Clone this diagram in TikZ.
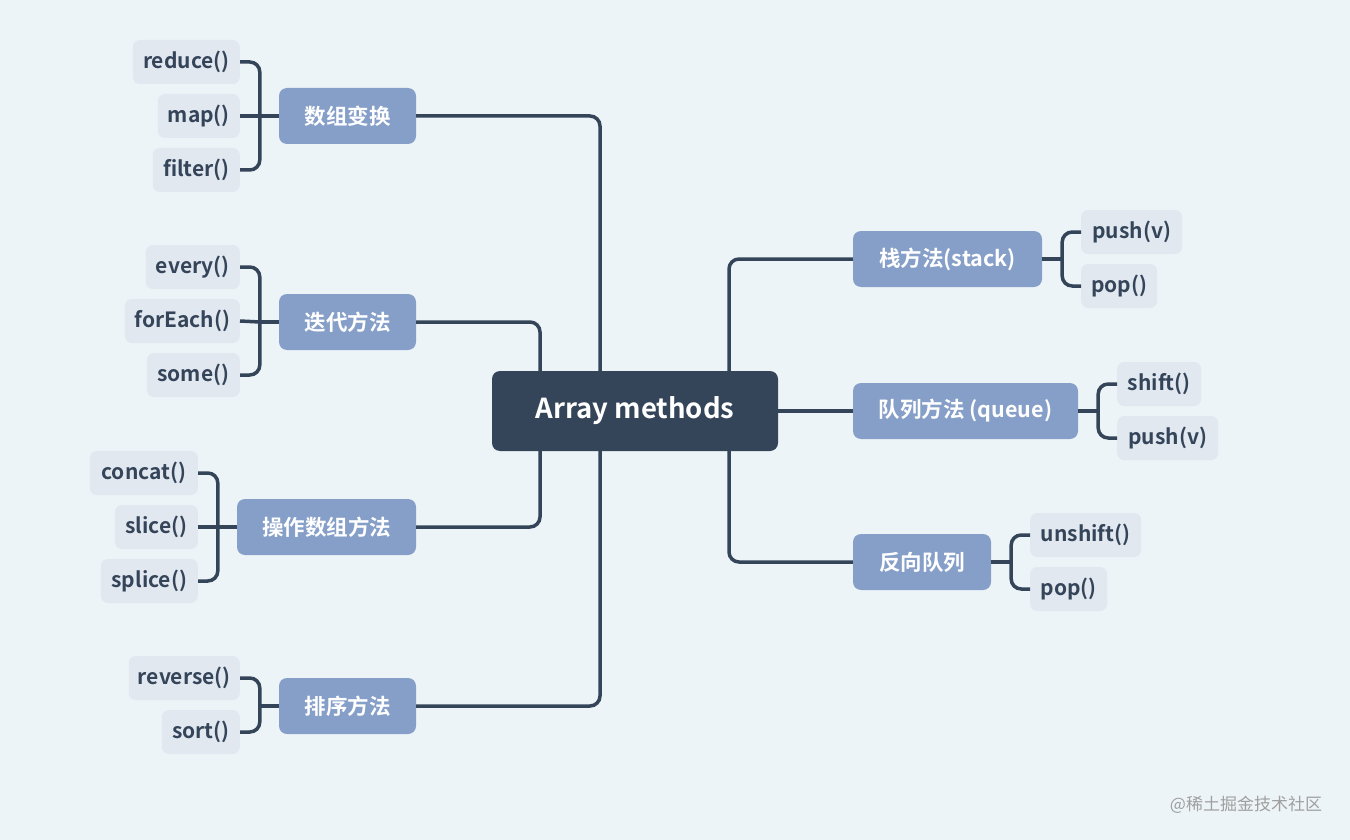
\documentclass[tikz,border=0pt]{standalone}
\usepackage{fontspec}
\setmainfont{Noto Sans CJK SC}[BoldFont={Noto Sans CJK SC Bold}]
\definecolor{bgcol}{HTML}{EDF4F8}
\definecolor{navy}{HTML}{344459}
\definecolor{branchcol}{HTML}{869FC8}
\definecolor{leafcol}{HTML}{E2E8F0}

\begin{document}
\begin{tikzpicture}[x=1pt,y=-1pt,
  rootbox/.style={fill=navy,text=white,rounded corners=8pt,minimum width=286pt,minimum height=80pt,font=\fontsize{27.5}{27.5}\selectfont\bfseries},
  branch/.style={fill=branchcol,text=white,rounded corners=8pt,minimum height=56pt,inner xsep=0pt,font=\fontsize{21.5}{21.5}\selectfont\bfseries},
  leaf/.style={fill=leafcol,text=navy,rounded corners=7pt,minimum height=44pt,inner xsep=0pt,font=\fontsize{21}{21}\selectfont\bfseries},
  link/.style={draw=navy,line width=3.5pt,rounded corners=10pt}]
  \fill[bgcol] (0,0) rectangle (1350,840);
  \useasboundingbox (0,0) rectangle (1350,840);
  \node[rootbox] (root) at (635,411) {Array methods};
  \node[branch,minimum width=137pt] (transform) at (347.5,116) {数组变换};
  \node[branch,minimum width=137pt] (iterate) at (347.5,322) {迭代方法};
  \node[branch,minimum width=179pt] (operate) at (326.5,527) {操作数组方法};
  \node[branch,minimum width=137pt] (sorting) at (347.5,706) {排序方法};
  \node[branch,minimum width=189pt] (stack) at (947.5,259) {栈方法(stack)};
  \node[branch,minimum width=225pt] (queue) at (965.5,411) {队列方法 (queue)};
  \node[branch,minimum width=138pt] (dequeue) at (922,562) {反向队列};
  \node[leaf,anchor=east,minimum width=107pt] (reduce) at (240,62) {reduce()};
  \node[leaf,anchor=east,minimum width=82pt] (map) at (240,116) {map()};
  \node[leaf,anchor=east,minimum width=87pt] (filter) at (240,170) {filter()};
  \node[leaf,anchor=east,minimum width=94pt] (every) at (240,267) {every()};
  \node[leaf,anchor=east,minimum width=115pt] (foreach) at (240,321) {forEach()};
  \node[leaf,anchor=east,minimum width=93pt] (some) at (240,375) {some()};
  \node[leaf,anchor=east,minimum width=108pt] (concat) at (198,473) {concat()};
  \node[leaf,anchor=east,minimum width=83pt] (slice) at (198,527) {slice()};
  \node[leaf,anchor=east,minimum width=97pt] (splice) at (198,581) {splice()};
  \node[leaf,anchor=east,minimum width=111pt] (reverse) at (240,678) {reverse()};
  \node[leaf,anchor=east,minimum width=78pt] (sort) at (240,732) {sort()};
  \node[leaf,anchor=west,minimum width=101pt] (push1) at (1081,232) {push(v)};
  \node[leaf,anchor=west,minimum width=76pt] (pop1) at (1081,286) {pop()};
  \node[leaf,anchor=west,minimum width=84pt] (shift) at (1117,384) {shift()};
  \node[leaf,anchor=west,minimum width=101pt] (push2) at (1117,438) {push(v)};
  \node[leaf,anchor=west,minimum width=111pt] (unshift) at (1030,535) {unshift()};
  \node[leaf,anchor=west,minimum width=77pt] (pop2) at (1030,589) {pop()};
  \node[text=gray!75,font=\fontsize{17}{17}\selectfont] (mark) at (1246,805) {@稀土掘金技术社区};
  \draw[link] ([xshift=-35pt]root.north) |- (transform.east);
  \draw[link] ([xshift=-95pt]root.north) |- (iterate.east);
  \draw[link] ([xshift=-95pt]root.south) |- (operate.east);
  \draw[link] ([xshift=-35pt]root.south) |- (sorting.east);
  \draw[link] ([xshift=94pt]root.north) |- (stack.west);
  \draw[link] (root.east) -- (queue.west);
  \draw[link] ([xshift=94pt]root.south) |- (dequeue.west);
  \foreach \p in {transform,iterate,operate,sorting}
    \draw[link] (\p.west) -- ++(-19,0) coordinate (j\p);
  \foreach \p in {stack,queue,dequeue}
    \draw[link] (\p.east) -- ++(20,0) coordinate (j\p);
  \foreach \p/\c in {transform/reduce,transform/filter,iterate/every,iterate/some,operate/concat,operate/splice,sorting/reverse,sorting/sort}
    \draw[link] (j\p) |- (\c.east);
  \foreach \p/\c in {transform/map,iterate/foreach,operate/slice}
    \draw[link] (j\p) -- (\c.east);
  \foreach \p/\c in {stack/push1,stack/pop1,queue/shift,queue/push2,dequeue/unshift,dequeue/pop2}
    \draw[link] (j\p) |- (\c.west);
\end{tikzpicture}
\end{document}
